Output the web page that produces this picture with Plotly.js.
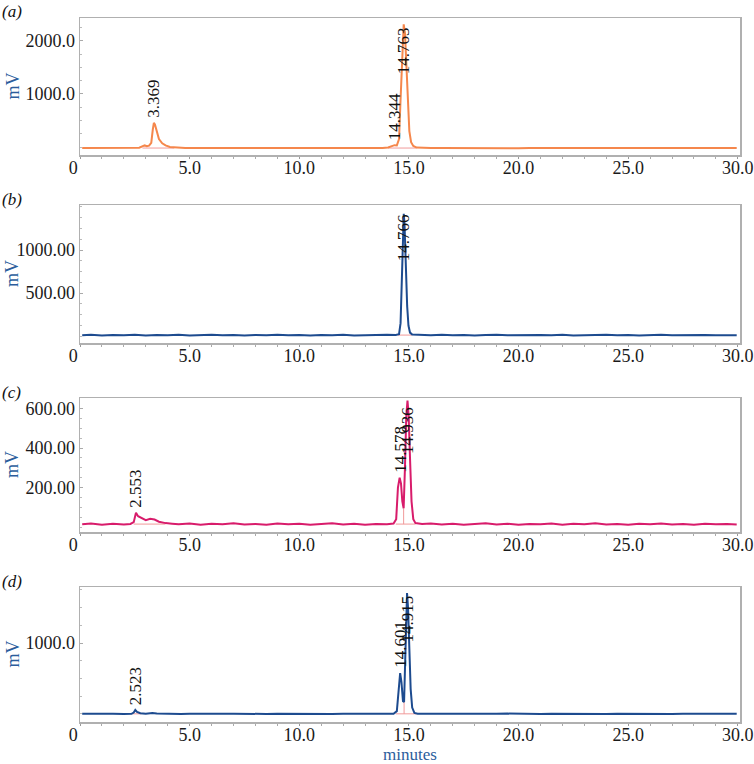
<!DOCTYPE html>
<html>
<head>
<meta charset="utf-8">
<script src="https://cdn.plot.ly/plotly-3.0.1.min.js"></script>
<style>
  body { margin: 0; background: #fff; }
  #chart { width: 754px; height: 764px; }
</style>
</head>
<body>
<div id="chart"></div>
<script>
// ==========================================================================
// Chromatogram data: [minutes, mV]
// ==========================================================================
const seriesA = [
    [0.1,-20],[0.8,-19],[1.3,-21],[1.8,-19],[2.3,-18],[2.7,-12],[2.95,30],[3.05,15],[3.15,25],
    [3.25,80],[3.32,330],[3.369,455],[3.42,420],[3.5,280],[3.6,150],[3.75,70],[3.9,30],[4.1,0],
    [4.4,-12],[4.8,-17],[5.3,-19],[5.8,-20],[6.3,-18],[6.8,-20],[7.3,-19],[7.8,-21],[8.3,-19],
    [8.8,-20],[9.3,-18],[9.8,-20],[10.3,-19],[10.8,-21],[11.3,-19],[11.8,-20],[12.3,-18],[12.8,-20],
    [13.3,-19],[13.8,-17],[14.05,-8],[14.2,15],[14.344,35],[14.45,30],[14.55,150],[14.62,900],
    [14.7,1900],[14.763,2310],[14.82,2150],[14.88,1500],[14.95,800],[15.02,300],[15.1,90],[15.2,20],
    [15.35,-10],[15.6,-18],[16.0,-20],[16.5,-19],[17.0,-21],[17.5,-19],[18.0,-20],[18.5,-18],
    [19.0,-20],[19.5,-19],[20.0,-21],[20.5,-19],[21.0,-20],[21.5,-18],[22.0,-20],[22.5,-19],
    [23.0,-21],[23.5,-19],[24.0,-20],[24.5,-18],[25.0,-20],[25.5,-19],[26.0,-21],[26.5,-19],
    [27.0,-20],[27.5,-18],[28.0,-20],[28.5,-19],[29.0,-21],[29.5,-19],[29.95,-20]
];
const seriesB = [
    [0.1,8],[0.5,14],[1.0,6],[1.5,13],[2.0,9],[2.5,15],[3.0,7],[3.5,12],[4.0,8],[4.5,14],[5.0,6],
    [5.5,11],[6.0,16],[6.5,8],[7.0,12],[7.5,7],[8.0,13],[8.5,9],[9.0,15],[9.5,8],[10.0,12],[10.5,6],
    [11.0,13],[11.5,10],[12.0,15],[12.5,7],[13.0,12],[13.5,9],[14.0,14],[14.4,12],[14.55,22],
    [14.62,150],[14.68,700],[14.73,1250],[14.766,1420],[14.8,1300],[14.86,800],[14.92,350],
    [14.98,120],[15.05,40],[15.15,18],[15.5,12],[16.0,8],[16.5,14],[17.0,9],[17.5,13],[18.0,7],
    [18.5,12],[19.0,15],[19.5,8],[20.0,11],[20.5,6],[21.0,13],[21.5,9],[22.0,14],[22.5,7],[23.0,12],
    [23.5,10],[24.0,15],[24.5,8],[25.0,13],[25.5,6],[26.0,11],[26.5,14],[27.0,9],[27.5,12],[28.0,7],
    [28.5,13],[29.0,10],[29.5,14],[29.95,9]
];
const seriesC = [
    [0.1,14],[0.5,18],[1.0,12],[1.5,17],[2.0,13],[2.3,16],[2.45,25],[2.553,72],[2.65,55],[2.8,45],
    [3.0,35],[3.2,42],[3.4,38],[3.6,27],[3.9,20],[4.2,17],[4.5,14],[5.0,18],[5.5,12],[6.0,17],
    [6.5,14],[7.0,19],[7.5,13],[8.0,16],[8.5,12],[9.0,18],[9.5,14],[10.0,17],[10.5,12],[11.0,16],
    [11.5,19],[12.0,13],[12.5,17],[13.0,12],[13.5,16],[14.0,14],[14.3,18],[14.42,40],[14.5,200],
    [14.578,250],[14.64,220],[14.7,130],[14.76,95],[14.82,300],[14.88,560],[14.936,640],[14.99,560],
    [15.05,350],[15.12,130],[15.2,40],[15.3,20],[15.6,15],[16.0,18],[16.5,13],[17.0,17],[17.5,12],
    [18.0,16],[18.5,19],[19.0,13],[19.5,17],[20.0,12],[20.5,16],[21.0,14],[21.5,18],[22.0,12],
    [22.5,17],[23.0,14],[23.5,19],[24.0,13],[24.5,16],[25.0,12],[25.5,17],[26.0,14],[26.5,18],
    [27.0,13],[27.5,16],[28.0,12],[28.5,17],[29.0,14],[29.5,16],[29.95,13]
];
const seriesD = [
    [0.1,2],[0.5,5],[1.0,0],[1.5,4],[2.0,1],[2.35,3],[2.45,20],[2.523,56],[2.6,30],[2.75,10],
    [3.0,4],[3.3,14],[3.5,6],[3.8,3],[4.2,5],[4.6,1],[5.0,4],[5.5,0],[6.0,5],[6.5,2],[7.0,4],
    [7.5,1],[8.0,3],[8.5,0],[9.0,4],[9.5,2],[10.0,5],[10.5,1],[11.0,3],[11.5,0],[12.0,4],[12.5,2],
    [13.0,5],[13.5,1],[14.0,3],[14.3,4],[14.45,40],[14.52,300],[14.601,577],[14.66,450],[14.73,180],
    [14.78,170],[14.83,700],[14.88,1500],[14.915,1705],[14.96,1500],[15.02,900],[15.08,350],
    [15.15,90],[15.25,15],[15.4,4],[16.0,2],[16.5,5],[17.0,1],[17.5,3],[18.0,0],[18.5,4],[19.0,2],
    [19.5,5],[20.0,1],[20.5,3],[21.0,0],[21.5,4],[22.0,2],[22.5,5],[23.0,1],[23.5,3],[24.0,0],
    [24.5,4],[25.0,2],[25.5,5],[26.0,1],[26.5,3],[27.0,0],[27.5,4],[28.0,2],[28.5,5],[29.0,1],
    [29.5,3],[29.95,2]
];

// labelled peak retention times
const peaksA = [3.369, 14.344, 14.763];
const peaksB = [14.766];
const peaksC = [2.553, 14.578, 14.936];
const peaksD = [2.523, 14.601, 14.915];

// integration baselines [from, to, mV] and drop lines [minutes, top mV]
const intA = [[2.85, 4.3, -19], [14.05, 15.35, -19]];
const intB = [[14.5, 15.15, 11]];
const intC = [[2.45, 3.9, 15], [14.4, 15.3, 15]];
const intD = [[2.4, 2.8, 2], [14.4, 15.35, 2]];
const dropC = [[14.76, 95]];
const dropD = [[14.78, 170]];

// y axis ticks
const ticksA = [1000, 2000];
const ticksB = [500, 1000];
const ticksC = [200, 400, 600];
const ticksD = [1000];
const xTicks = [0, 5, 10, 15, 20, 25, 30];

// ==========================================================================
// Panels
// ==========================================================================
const W = 754, H = 764;
const M = { l: 80, r: 14, t: 18, b: 42 };
const plotH = H - M.t - M.b;
const FONT = '"Liberation Serif", "Times New Roman", serif';
const BLUE_TITLE = '#2b5d9c';

const panels = [
    { name: '(a)', data: seriesA, peaks: peaksA, ints: intA, drops: [], ticks: ticksA, dec: 1,
      range: [-150, 2430], top: 18, bottom: 155, color: '#f5874c' },
    { name: '(b)', data: seriesB, peaks: peaksB, ints: intB, drops: [], ticks: ticksB, dec: 2,
      range: [-81, 1523], top: 205, bottom: 343, color: '#1d4b8f' },
    { name: '(c)', data: seriesC, peaks: peaksC, ints: intC, drops: dropC, ticks: ticksC, dec: 2,
      range: [-25, 653], top: 398, bottom: 532, color: '#d81c6b' },
    { name: '(d)', data: seriesD, peaks: peaksD, ints: intD, drops: dropD, ticks: ticksD, dec: 1,
      range: [-113, 1789], top: 587, bottom: 722, color: '#1d4b8f' }
];

const traces = [];
const annotations = [];
const layout = {
    width: W, height: H,
    margin: M,
    paper_bgcolor: '#fff',
    plot_bgcolor: '#fff',
    showlegend: false,
    font: { family: FONT, size: 17, color: '#1a1a1a' },
    annotations: annotations
};

panels.forEach((p, i) => {
    const n = i + 1;
    const xa = n === 1 ? 'x' : 'x' + n;
    const ya = n === 1 ? 'y' : 'y' + n;
    const d0 = (H - M.b - p.bottom) / plotH;
    const d1 = (H - M.b - p.top) / plotH;

    // integration baselines (pink)
    const bx = [], by = [];
    p.ints.forEach(s => { bx.push(s[0], s[1], null); by.push(s[2], s[2], null); });
    p.drops.forEach(s => { bx.push(s[0], s[0], null); by.push(p.ints[p.ints.length - 1][2], s[1], null); });
    traces.push({
        x: bx, y: by, xaxis: xa, yaxis: ya, mode: 'lines', hoverinfo: 'skip',
        line: { color: '#f19a9a', width: 1 }
    });

    // chromatogram
    traces.push({
        x: p.data.map(d => d[0]), y: p.data.map(d => d[1]),
        xaxis: xa, yaxis: ya, mode: 'lines',
        line: { color: p.color, width: 2 }
    });

    layout['xaxis' + (n === 1 ? '' : n)] = {
        anchor: ya, domain: [0, 1], range: [0, 30.1],
        tickvals: xTicks,
        ticktext: xTicks.map(v => v === 0 ? '0\u00a0\u00a0\u00a0' : v.toFixed(1)),
        ticks: 'outside', ticklen: 2, tickcolor: '#999',
        ticklabelstandoff: -6,
        minor: { dtick: 1, tick0: 0, ticks: 'outside', ticklen: 2, tickcolor: '#aaa' },
        showgrid: false, zeroline: false,
        showline: true, mirror: true, linecolor: '#b0b0b0', linewidth: 1.5,
        tickfont: { family: FONT, size: 18, color: '#1a1a1a' }
    };
    layout['yaxis' + (n === 1 ? '' : n)] = {
        anchor: xa, domain: [d0, d1], range: p.range,
        tickvals: p.ticks, ticktext: p.ticks.map(v => v.toFixed(p.dec)),
        ticks: 'inside', ticklen: 3, tickcolor: '#aaa',
        minor: { dtick: p.ticks.length > 1 ? (p.ticks[1] - p.ticks[0]) / 4 : 250, ticks: 'inside', ticklen: 2, tickcolor: '#bbb' },
        showgrid: false, zeroline: false,
        showline: true, mirror: true, linecolor: '#b0b0b0', linewidth: 1.5,
        tickfont: { family: FONT, size: 18, color: '#1a1a1a' }
    };

    // peak labels: above the peak, or pinned under the frame when too tall
    const pxPerUnit = (p.bottom - p.top) / (p.range[1] - p.range[0]);
    p.peaks.forEach(t => {
        const pt = p.data.find(d => d[0] === t);
        const label = t.toFixed(3);
        const len = label.length * 7.6;
        const peakPx = p.top + (p.range[1] - pt[1]) * pxPerUnit;
        const pinned = peakPx - 4 - len < p.top + 4;
        annotations.push({
            xref: xa, yref: ya, x: t,
            y: pinned ? p.range[1] : pt[1],
            yanchor: pinned ? 'top' : 'bottom',
            yshift: pinned ? -7 : 3,
            xanchor: 'center',
            text: label, textangle: -90, showarrow: false,
            font: { family: FONT, size: 17, color: '#111' }
        });
    });

    // panel letter
    annotations.push({
        xref: 'paper', yref: 'paper',
        x: (0 - M.l) / (W - M.l - M.r), y: (H - M.b - (p.top - 6)) / plotH,
        xanchor: 'left', yanchor: 'middle', showarrow: false,
        text: '<i>' + p.name + '</i>',
        font: { family: FONT, size: 17, color: '#111' }
    });

    // "mV" axis title
    annotations.push({
        xref: 'paper', yref: 'paper',
        x: (12 - M.l) / (W - M.l - M.r), y: (d0 + d1) / 2,
        xanchor: 'center', yanchor: 'middle', showarrow: false,
        text: 'mV', textangle: -90,
        font: { family: FONT, size: 18, color: BLUE_TITLE }
    });
});

annotations.push({
    xref: 'paper', yref: 'paper',
    x: 0.5, y: (H - M.b - 754) / plotH,
    xanchor: 'center', yanchor: 'middle', showarrow: false,
    text: 'minutes',
    font: { family: FONT, size: 17, color: BLUE_TITLE }
});

Plotly.newPlot('chart', traces, layout, { displayModeBar: false, staticPlot: true });
</script>
</body>
</html>
